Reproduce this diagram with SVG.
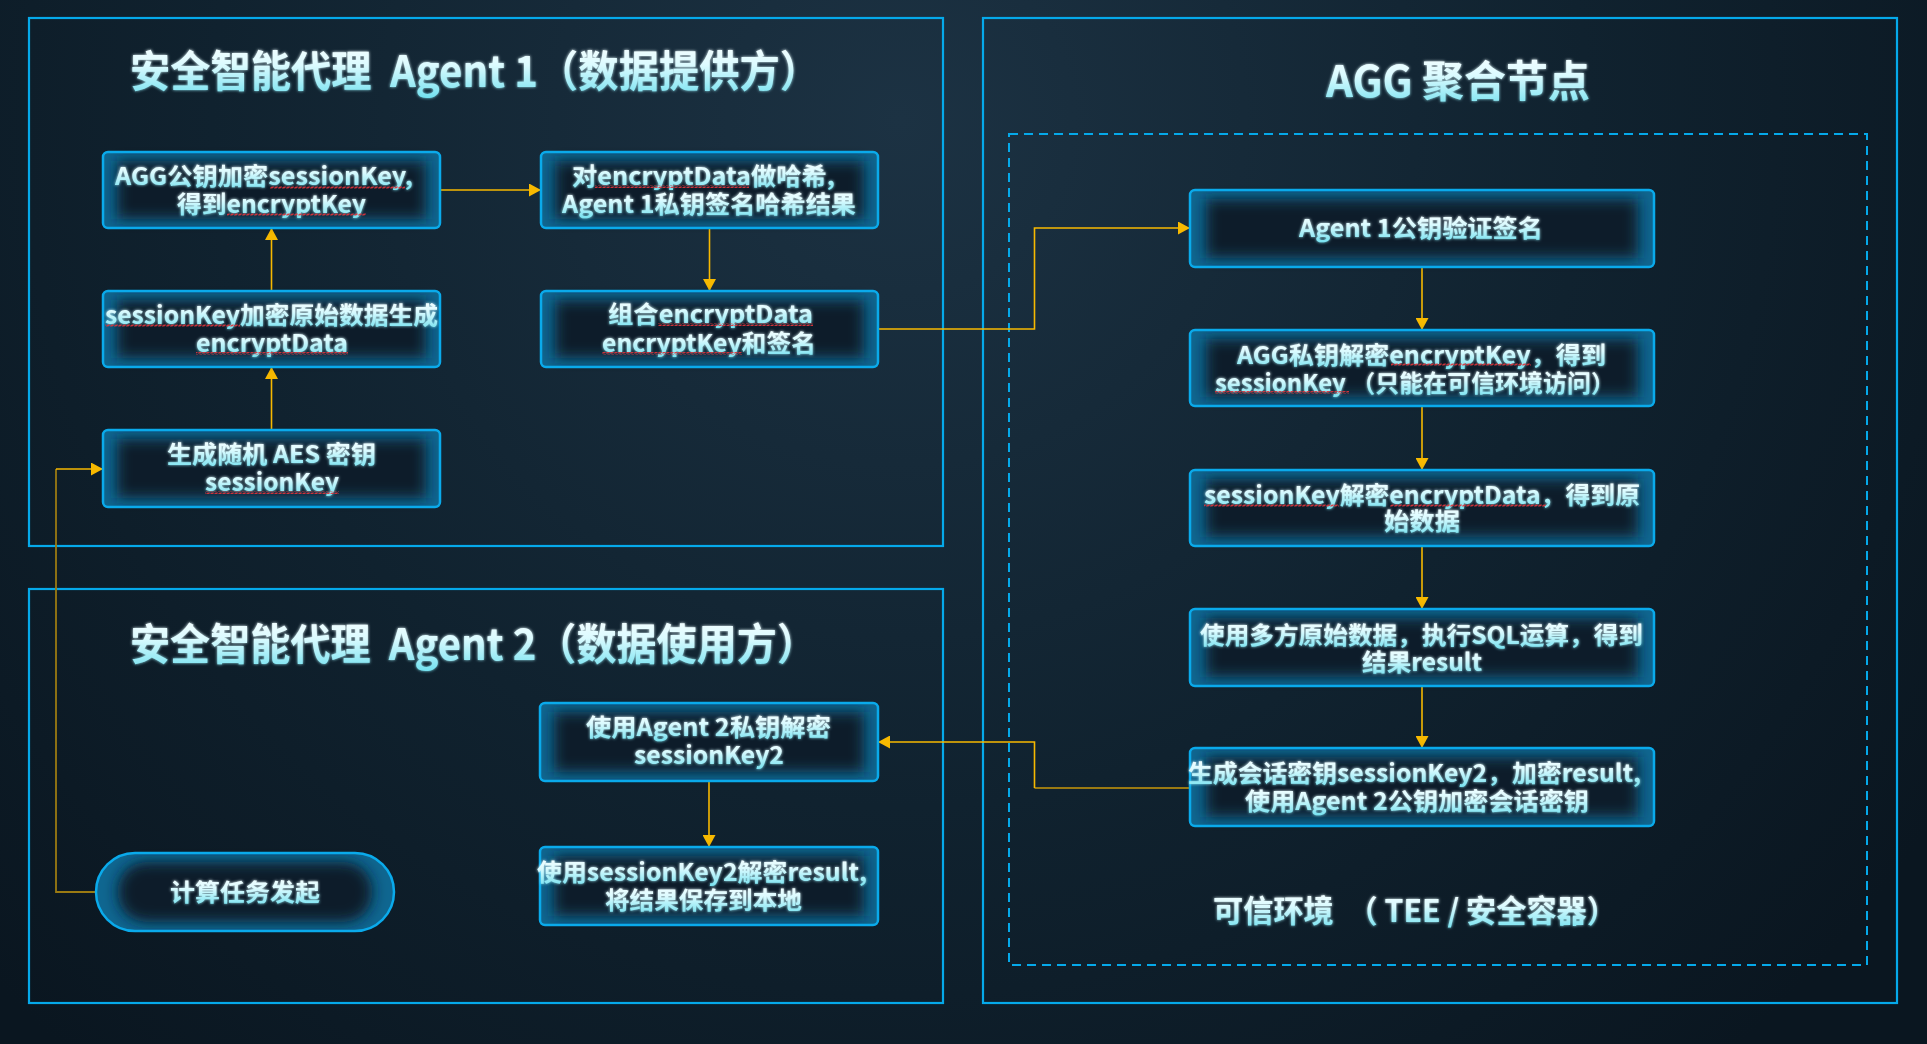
<svg xmlns="http://www.w3.org/2000/svg" width="1927" height="1044" viewBox="0 0 1927 1044">
<defs>
<radialGradient id="bg" cx="900" cy="120" r="1250" gradientUnits="userSpaceOnUse">
<stop offset="0" stop-color="#1c3243"/>
<stop offset="0.55" stop-color="#10222f"/>
<stop offset="1" stop-color="#0a1620"/>
</radialGradient>
<linearGradient id="tg" x1="0" y1="0" x2="0" y2="1">
<stop offset="0" stop-color="#ffffff"/>
<stop offset="0.45" stop-color="#dcfbff"/>
<stop offset="1" stop-color="#6fe0ef"/>
</linearGradient>
<filter id="blurIn" x="-20%" y="-40%" width="140%" height="180%">
<feGaussianBlur stdDeviation="7"/>
</filter>
<filter id="glow" x="-10%" y="-30%" width="120%" height="160%">
<feGaussianBlur in="SourceGraphic" stdDeviation="1.6" result="b"/>
<feMerge><feMergeNode in="b"/><feMergeNode in="SourceGraphic"/></feMerge>
</filter>
<pattern id="wave" width="4" height="3" patternUnits="userSpaceOnUse">
<path d="M0,2.5 L1,0.5 L3,2.5 L4,0.5" stroke="#e0333a" stroke-width="0.9" fill="none"/>
</pattern>
<marker id="arr" viewBox="0 0 12 13" refX="12" refY="6.5" markerWidth="12" markerHeight="13" markerUnits="userSpaceOnUse" orient="auto">
<path d="M0,0 L12,6.5 L0,13 Z" fill="#f7b900"/>
</marker>
<style>
.frame{fill:none;stroke:#05a9ea;stroke-width:2.2}
.dash{fill:none;stroke:#05a9ea;stroke-width:2;stroke-dasharray:9 6}
.nb{fill:#0f6690}
.ni{fill:#0b1b29}
.ns{fill:none;stroke:#0aaaeb;stroke-width:2.5}
.t{font-family:"Noto Sans CJK SC","Noto Sans",sans-serif;font-weight:bold;fill:url(#tg);dominant-baseline:central;filter:url(#glow)}
.title{font-size:43px}
.nt{font-size:24px}
.c{fill:none;stroke:#f7b900;stroke-width:1.6}
.cd{fill:none;stroke:#9a7a12;stroke-width:1.8}
.w{fill:url(#wave)}
</style>
</defs>

<rect width="1927" height="1044" fill="url(#bg)"/>

<g id="group-agent1">
<rect class="frame" x="29" y="18" width="914" height="528"/>
<text class="t title" x="130" y="68" textLength="690" lengthAdjust="spacingAndGlyphs">安全智能代理&#160;&#160;Agent 1（数据提供方）</text>
</g>
<g id="group-agent2">
<rect class="frame" x="29" y="589" width="914" height="414"/>
<text class="t title" x="130" y="641" textLength="687" lengthAdjust="spacingAndGlyphs">安全智能代理&#160;&#160;Agent 2（数据使用方）</text>
</g>
<g id="group-agg">
<rect class="frame" x="983" y="18" width="914" height="985"/>
<text class="t title" x="1326" y="78" textLength="264" lengthAdjust="spacingAndGlyphs">AGG 聚合节点</text>
<rect class="dash" x="1009" y="134" width="858" height="831"/>
<text class="t" style="font-size:31px" x="1213" y="908" textLength="404" lengthAdjust="spacingAndGlyphs">可信环境&#160;&#160;（ TEE / 安全容器）</text>
</g>

<g id="connectors">
<path class="c" d="M440,190 H541" marker-end="url(#arr)"/>
<path class="c" d="M709.5,228 V291" marker-end="url(#arr)"/>
<path class="c" d="M271.5,430 V367" marker-end="url(#arr)"/>
<path class="c" d="M271.5,291 V228" marker-end="url(#arr)"/>
<path class="c" d="M878,329 H1034.5 V228 H1190" marker-end="url(#arr)"/>
<path class="c" d="M1422,267 V330" marker-end="url(#arr)"/>
<path class="c" d="M1422,406 V470" marker-end="url(#arr)"/>
<path class="c" d="M1422,546 V609" marker-end="url(#arr)"/>
<path class="c" d="M1422,686 V748" marker-end="url(#arr)"/>
<g id="conn-j-k">
<path class="cd" d="M1190,788 H1034.5"/>
<path class="c" d="M1034.5,788 V742 H878" marker-end="url(#arr)"/>
</g>
<path class="c" d="M709,781 V847" marker-end="url(#arr)"/>
<g id="conn-m-c">
<path class="cd" d="M96,892 H56 V469"/>
<path class="c" d="M56,469 H103" marker-end="url(#arr)"/>
</g>
</g>

<g id="node-agg-encrypt">
<rect class="nb" x="103" y="152" width="337" height="76" rx="5"/>
<rect class="ni" x="117" y="161" width="309" height="58" filter="url(#blurIn)"/>
<rect class="ns" x="103" y="152" width="337" height="76" rx="5"/>
<text class="t nt" x="115" y="174" textLength="298" lengthAdjust="spacingAndGlyphs">AGG公钥加密sessionKey,</text>
<text class="t nt" x="177" y="202" textLength="189" lengthAdjust="spacingAndGlyphs">得到encryptKey</text>
<rect class="w" x="270" y="186" width="135" height="3"/>
<rect class="w" x="227" y="213" width="139" height="3"/>
</g>

<g id="node-session-encrypt">
<rect class="nb" x="103" y="291" width="337" height="76" rx="5"/>
<rect class="ni" x="117" y="300" width="309" height="58" filter="url(#blurIn)"/>
<rect class="ns" x="103" y="291" width="337" height="76" rx="5"/>
<text class="t nt" x="105" y="313" textLength="333" lengthAdjust="spacingAndGlyphs">sessionKey加密原始数据生成</text>
<text class="t nt" x="196" y="341" textLength="152" lengthAdjust="spacingAndGlyphs">encryptData</text>
<rect class="w" x="105" y="324" width="135" height="3"/>
<rect class="w" x="196" y="352" width="152" height="3"/>
</g>

<g id="node-gen-key">
<rect class="nb" x="103" y="430" width="337" height="77" rx="5"/>
<rect class="ni" x="117" y="439" width="309" height="59" filter="url(#blurIn)"/>
<rect class="ns" x="103" y="430" width="337" height="77" rx="5"/>
<text class="t nt" x="167" y="452" textLength="209" lengthAdjust="spacingAndGlyphs">生成随机 AES 密钥</text>
<text class="t nt" x="205" y="480" textLength="134" lengthAdjust="spacingAndGlyphs">sessionKey</text>
<rect class="w" x="205" y="491" width="134" height="3"/>
</g>

<g id="node-hash-sign">
<rect class="nb" x="541" y="152" width="337" height="76" rx="5"/>
<rect class="ni" x="555" y="161" width="309" height="58" filter="url(#blurIn)"/>
<rect class="ns" x="541" y="152" width="337" height="76" rx="5"/>
<text class="t nt" x="572" y="174" textLength="263" lengthAdjust="spacingAndGlyphs">对encryptData做哈希,</text>
<text class="t nt" x="562" y="202" textLength="294" lengthAdjust="spacingAndGlyphs">Agent 1私钥签名哈希结果</text>
<rect class="w" x="595" y="185" width="154" height="3"/>
</g>

<g id="node-combine">
<rect class="nb" x="541" y="291" width="337" height="76" rx="5"/>
<rect class="ni" x="555" y="300" width="309" height="58" filter="url(#blurIn)"/>
<rect class="ns" x="541" y="291" width="337" height="76" rx="5"/>
<text class="t nt" x="608" y="312" textLength="205" lengthAdjust="spacingAndGlyphs">组合encryptData</text>
<text class="t nt" x="602" y="341" textLength="214" lengthAdjust="spacingAndGlyphs">encryptKey和签名</text>
<rect class="w" x="658" y="323" width="155" height="3"/>
<rect class="w" x="602" y="352" width="140" height="3"/>
</g>

<g id="node-verify">
<rect class="nb" x="1190" y="190" width="464" height="77" rx="5"/>
<rect class="ni" x="1206" y="199" width="432" height="59" filter="url(#blurIn)"/>
<rect class="ns" x="1190" y="190" width="464" height="77" rx="5"/>
<text class="t nt" x="1299" y="226" textLength="244" lengthAdjust="spacingAndGlyphs">Agent 1公钥验证签名</text>
</g>

<g id="node-agg-decrypt">
<rect class="nb" x="1190" y="330" width="464" height="76" rx="5"/>
<rect class="ni" x="1206" y="339" width="432" height="58" filter="url(#blurIn)"/>
<rect class="ns" x="1190" y="330" width="464" height="76" rx="5"/>
<text class="t nt" x="1237" y="353" textLength="369" lengthAdjust="spacingAndGlyphs">AGG私钥解密encryptKey，得到</text>
<text class="t nt" x="1215" y="381" textLength="400" lengthAdjust="spacingAndGlyphs">sessionKey （只能在可信环境访问）</text>
<rect class="w" x="1391" y="363" width="140" height="3"/>
<rect class="w" x="1215" y="391" width="134" height="3"/>
</g>

<g id="node-data-decrypt">
<rect class="nb" x="1190" y="470" width="464" height="76" rx="5"/>
<rect class="ni" x="1206" y="479" width="432" height="58" filter="url(#blurIn)"/>
<rect class="ns" x="1190" y="470" width="464" height="76" rx="5"/>
<text class="t nt" x="1204" y="493" textLength="436" lengthAdjust="spacingAndGlyphs">sessionKey解密encryptData，得到原</text>
<text class="t nt" x="1384" y="519" textLength="76" lengthAdjust="spacingAndGlyphs">始数据</text>
<rect class="w" x="1204" y="504" width="135" height="3"/>
<rect class="w" x="1390" y="504" width="156" height="3"/>
</g>

<g id="node-sql">
<rect class="nb" x="1190" y="609" width="464" height="77" rx="5"/>
<rect class="ni" x="1206" y="618" width="432" height="59" filter="url(#blurIn)"/>
<rect class="ns" x="1190" y="609" width="464" height="77" rx="5"/>
<text class="t nt" x="1200" y="633" textLength="443" lengthAdjust="spacingAndGlyphs">使用多方原始数据，执行SQL运算，得到</text>
<text class="t nt" x="1362" y="660" textLength="120" lengthAdjust="spacingAndGlyphs">结果result</text>
</g>

<g id="node-session2">
<rect class="nb" x="1190" y="748" width="464" height="78" rx="5"/>
<rect class="ni" x="1206" y="757" width="432" height="60" filter="url(#blurIn)"/>
<rect class="ns" x="1190" y="748" width="464" height="78" rx="5"/>
<text class="t nt" x="1188" y="771" textLength="453" lengthAdjust="spacingAndGlyphs">生成会话密钥sessionKey2，加密result,</text>
<text class="t nt" x="1245" y="799" textLength="344" lengthAdjust="spacingAndGlyphs">使用Agent 2公钥加密会话密钥</text>
</g>

<g id="node-agent2-decrypt">
<rect class="nb" x="540" y="703" width="338" height="78" rx="5"/>
<rect class="ni" x="554" y="712" width="310" height="60" filter="url(#blurIn)"/>
<rect class="ns" x="540" y="703" width="338" height="78" rx="5"/>
<text class="t nt" x="586" y="725" textLength="245" lengthAdjust="spacingAndGlyphs">使用Agent 2私钥解密</text>
<text class="t nt" x="634" y="753" textLength="150" lengthAdjust="spacingAndGlyphs">sessionKey2</text>
</g>

<g id="node-save">
<rect class="nb" x="540" y="847" width="338" height="78" rx="5"/>
<rect class="ni" x="554" y="856" width="310" height="60" filter="url(#blurIn)"/>
<rect class="ns" x="540" y="847" width="338" height="78" rx="5"/>
<text class="t nt" x="537" y="870" textLength="330" lengthAdjust="spacingAndGlyphs">使用sessionKey2解密result,</text>
<text class="t nt" x="605" y="898" textLength="197" lengthAdjust="spacingAndGlyphs">将结果保存到本地</text>
</g>

<g id="node-start">
<rect class="nb" x="96" y="853" width="298" height="78" rx="39"/>
<rect class="ni" x="118" y="862" width="254" height="60" rx="28" filter="url(#blurIn)"/>
<rect class="ns" x="96" y="853" width="298" height="78" rx="39"/>
<text class="t nt" x="170" y="890" textLength="150" lengthAdjust="spacingAndGlyphs">计算任务发起</text>
</g>
</svg>
